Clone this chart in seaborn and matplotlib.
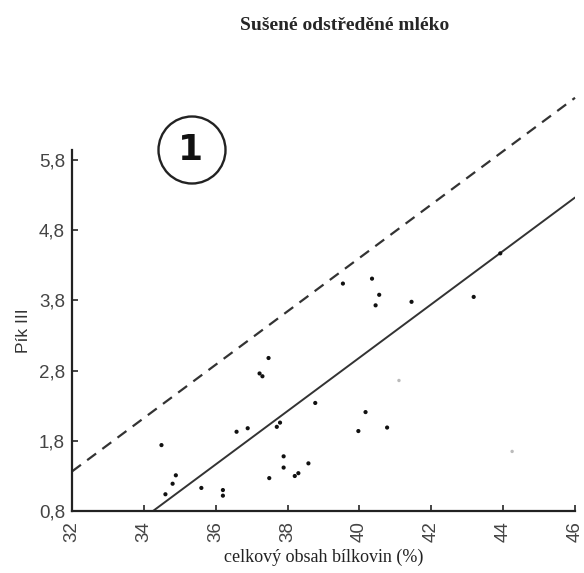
import numpy as np
import pandas as pd
import seaborn as sns
import matplotlib.pyplot as plt
from matplotlib.patches import Circle
from matplotlib.ticker import FuncFormatter

# data
protein = [34.49, 34.6, 34.8, 34.89, 35.6, 36.2, 36.2, 36.58, 36.89, 37.22, 37.3,
           37.47, 37.49, 37.7, 37.79, 37.89, 37.89, 38.2, 38.3, 38.58, 38.77,
           39.54, 39.97, 40.17, 40.35, 40.45, 40.55, 40.77, 41.45, 43.18, 43.92]
peak3 = [1.74, 1.04, 1.19, 1.31, 1.13, 1.10, 1.02, 1.93, 1.98, 2.76, 2.72,
         2.98, 1.27, 2.00, 2.06, 1.58, 1.42, 1.30, 1.34, 1.48, 2.34,
         4.04, 1.94, 2.21, 4.11, 3.73, 3.88, 1.99, 3.78, 3.85, 4.47]
faint_x = [41.1, 44.25]
faint_y = [2.66, 1.65]

# fitted line and its upper limit
line_x = np.array([32, 46])
slope = 0.38
intercept = 0.8 - 0.38 * 34.25
upper_offset = 1.42

x_ticks = [32, 34, 36, 38, 40, 42, 44, 46]
y_ticks = [0.8, 1.8, 2.8, 3.8, 4.8, 5.8]

sns.set_style("ticks")
plt.rcParams['font.family'] = ['Liberation Sans', 'DejaVu Sans']

fig = plt.figure(figsize=(5.84, 5.73), dpi=100)
ax = fig.add_axes([0.1233, 0.108, 0.8613, 0.63])

df = pd.DataFrame({"x": protein, "y": peak3})
sns.scatterplot(data=df, x="x", y="y", ax=ax, s=9, color="#111111",
                edgecolor="none", zorder=3)
sns.scatterplot(x=faint_x, y=faint_y, ax=ax, s=6, color="#bbbbbb",
                edgecolor="none", zorder=3)

ax.plot(line_x, intercept + slope * line_x, color="#333333", lw=1.4)
ax.plot(line_x, intercept + upper_offset + slope * line_x, color="#333333",
        lw=1.6, dashes=(5, 3.5), clip_on=False)

ax.set_xlim(32, 46)
ax.set_ylim(0.8, 5.94)
ax.set_xticks(x_ticks)
ax.set_yticks(y_ticks)
ax.yaxis.set_major_formatter(FuncFormatter(lambda v, p: f"{v:.1f}".replace(".", ",")))
ax.tick_params(axis="x", rotation=90, direction="in", length=4, width=1.2,
               labelsize=13.5, labelcolor="#444444", pad=7)
ax.tick_params(axis="y", direction="in", length=4, width=1.2,
               labelsize=13.5, labelcolor="#444444", pad=5)
sns.despine(ax=ax)
for s in ["left", "bottom"]:
    ax.spines[s].set_linewidth(1.6)
    ax.spines[s].set_color("#222222")

ax.set_xlabel("celkový obsah bílkovin (%)", family="Liberation Serif",
              fontsize=13, color="#222222", labelpad=5)
ax.set_ylabel("Pík III", fontsize=12.5, color="#333333", labelpad=6)

fig.text(0.59, 0.956, "Sušené odstředěné mléko", family="Liberation Serif",
         fontweight="bold", fontsize=14, ha="center", va="center")

# circled panel number
circ = Circle((1.92, 5.73 - 1.50), 0.335, transform=fig.dpi_scale_trans,
              fill=False, lw=1.7, edgecolor="#222222")
fig.add_artist(circ)
fig.text(1.91 / 5.84, 1 - 1.50 / 5.73, "1", fontsize=26, fontweight="bold",
         ha="center", va="center", color="#111111", family="DejaVu Sans")

fig.savefig("out.png", dpi=100)
